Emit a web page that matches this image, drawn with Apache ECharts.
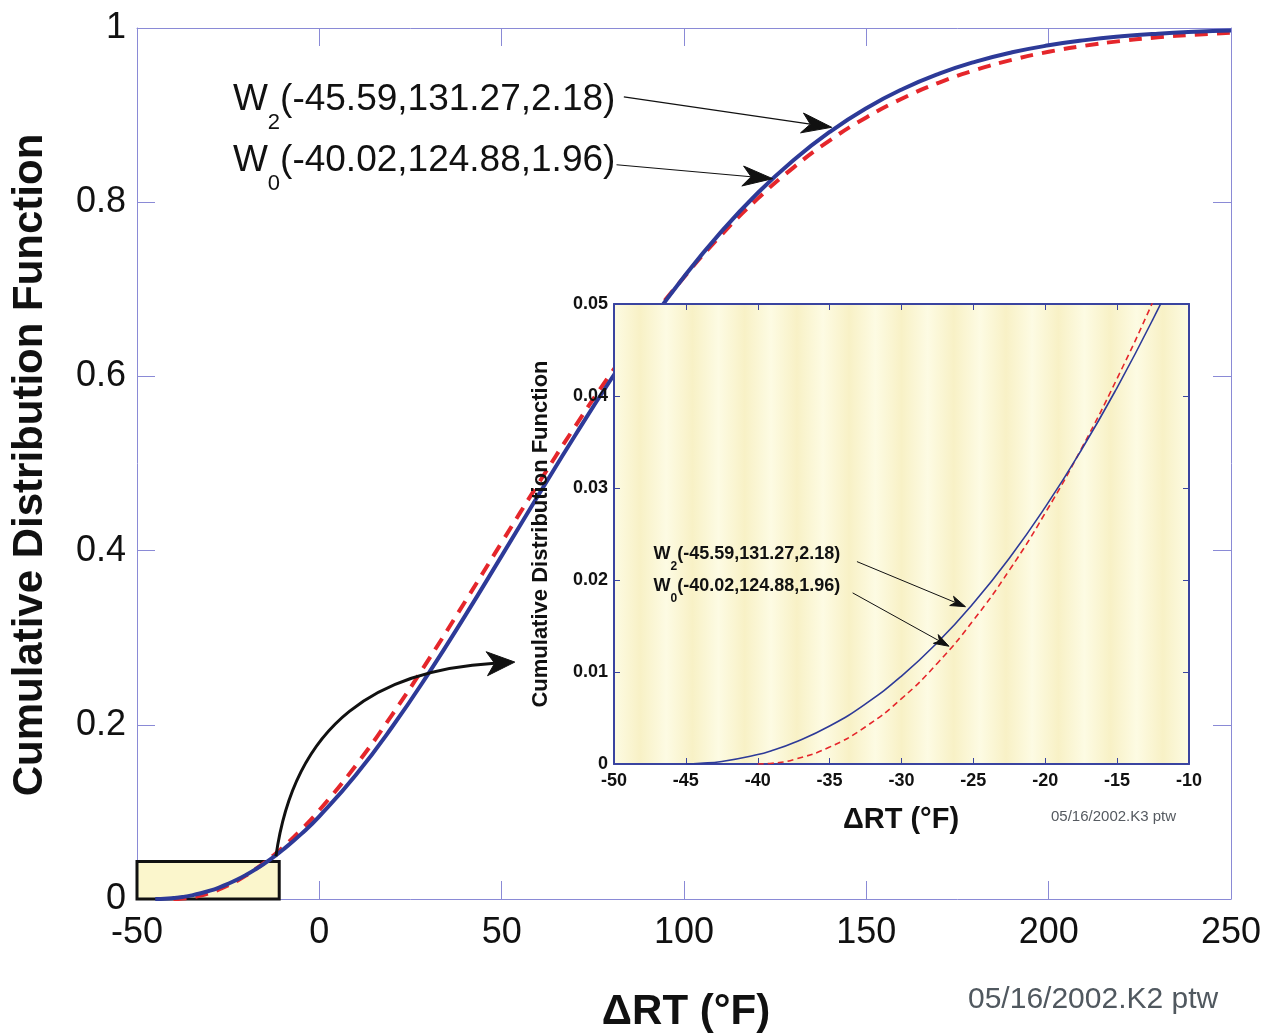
<!DOCTYPE html>
<html>
<head>
<meta charset="utf-8">
<script src="https://cdn.jsdelivr.net/npm/echarts@6/dist/echarts.min.js"></script>
<style>
html,body{margin:0;padding:0;background:#ffffff;}
#c{width:1267px;height:1036px;}
</style>
</head>
<body>
<div id="c"></div>
<script>
// ---------------- data ----------------
const xVals = [-45, -44, -42.5, -40, -39, -37.5, -35, -32.5, -30, -27.5, -25, -22.5, -20, -17.5, -15, -12.5, -10, -5, 0,
  10, 20, 30, 40, 50, 60, 70, 80, 90, 100, 110, 120, 130, 140, 150, 160, 170, 180, 190, 200, 210, 220, 230, 240, 250];
// W2(-45.59,131.27,2.18)  blue solid
const w2Vals = [0.00001, 0.00007, 0.00028, 0.00103, 0.00147, 0.00230, 0.00413, 0.00654, 0.00956, 0.01320, 0.01747, 0.02237, 0.02792, 0.03410, 0.04092, 0.04837, 0.05647, 0.07448, 0.09490,
  0.14242, 0.19776, 0.25937, 0.32537, 0.39397, 0.46322, 0.53132, 0.59674, 0.65807, 0.71444, 0.76506, 0.80970, 0.84823, 0.88083, 0.90794, 0.92998, 0.94761, 0.96143, 0.97208, 0.98012, 0.98607, 0.99041, 0.99351, 0.99568, 0.99717];
// W0(-40.02,124.88,1.96)  red dashed
const w0Vals = [null, null, null, 0.00000, 0.00008, 0.00048, 0.00184, 0.00405, 0.00710, 0.01096, 0.01562, 0.02106, 0.02728, 0.03423, 0.04191, 0.05029, 0.05933, 0.07941, 0.10191,
  0.15331, 0.21175, 0.27510, 0.34160, 0.40933, 0.47647, 0.54165, 0.60356, 0.66118, 0.71391, 0.76132, 0.80324, 0.83975, 0.87102, 0.89735, 0.91933, 0.93735, 0.95190, 0.96351, 0.97265, 0.97973, 0.98515, 0.98925, 0.99231, 0.99456];

const mainXRange = [-50, 250, 50];
const mainYRange = [0, 1, 0.2];
const insetXRange = [-50, -10, 5];
const insetYRange = [0, 0.05, 0.01];
const zoomBox = [[-50, 0], [-11, 0.043]];

const labelW2 = { sub: '2', rest: '(-45.59,131.27,2.18)' };
const labelW0 = { sub: '0', rest: '(-40.02,124.88,1.96)' };
const xTitle = '\u0394RT (\u00B0F)';
const yTitle = 'Cumulative Distribution Function';
const stampMain = '05/16/2002.K2 ptw';
const stampInset = '05/16/2002.K3 ptw';

// ---------------- styling ----------------
const FONT = '"Liberation Sans", Arial, sans-serif';
const mainAxisColor = '#8a8ad6';
const insetAxisColor = '#3a44a0';
const blue = '#2d3a98';
const red = '#e5262b';

function pairs(ys) {
  const out = [];
  for (let i = 0; i < xVals.length; i++) if (ys[i] !== null) out.push([xVals[i], ys[i]]);
  return out;
}
function stripes(n) {
  const stops = [];
  for (let i = 0; i <= n; i++) stops.push({ offset: i / n, color: i % 2 ? '#f8f1c6' : '#fdfbe3' });
  return new echarts.graphic.LinearGradient(0, 0, 1, 0, stops);
}
function axisX(grid, pos, r, o) {
  return Object.assign({
    type: 'value', gridIndex: grid, position: pos, min: r[0], max: r[1], interval: r[2],
    splitLine: { show: false }
  }, o);
}
const axisY = axisX;
function aLine(color, width) { return { onZero: false, lineStyle: { color: color, width: width } }; }
const mainLine = aLine(mainAxisColor, 1);
const mainTick = { inside: true, length: 18, lineStyle: { color: mainAxisColor, width: 1 } };
const mainLbl = { fontSize: 36, fontFamily: FONT, color: '#111' };
const inLine = aLine(insetAxisColor, 2);
const inTick = { inside: true, length: 6, lineStyle: { color: insetAxisColor, width: 1 } };
const inLbl = { fontSize: 18, fontWeight: 'bold', fontFamily: FONT, color: '#111' };

const chart = echarts.init(document.getElementById('c'), null, { renderer: 'canvas' });

chart.setOption({
  animation: false,
  backgroundColor: '#ffffff',
  grid: [
    { left: 137, top: 28, width: 1094, height: 871 },
    { left: 614, top: 304, width: 575, height: 460, show: true, backgroundColor: stripes(22), borderWidth: 0, z: 10 }
  ],
  xAxis: [
    axisX(0, 'bottom', mainXRange, { axisLine: mainLine, axisTick: mainTick, axisLabel: Object.assign({ margin: 16 }, mainLbl) }),
    axisX(0, 'top', mainXRange, { axisLine: mainLine, axisTick: mainTick, axisLabel: { show: false } }),
    axisX(1, 'bottom', insetXRange, { z: 12, axisLine: inLine, axisTick: inTick, axisLabel: Object.assign({ margin: 8 }, inLbl) }),
    axisX(1, 'top', insetXRange, { z: 12, axisLine: inLine, axisTick: inTick, axisLabel: { show: false } })
  ],
  yAxis: [
    axisY(0, 'left', mainYRange, { axisLine: mainLine, axisTick: mainTick, axisLabel: Object.assign({ margin: 11 }, mainLbl) }),
    axisY(0, 'right', mainYRange, { axisLine: mainLine, axisTick: mainTick, axisLabel: { show: false } }),
    axisY(1, 'left', insetYRange, { z: 12, axisLine: inLine, axisTick: inTick, axisLabel: Object.assign({ margin: 6 }, inLbl) }),
    axisY(1, 'right', insetYRange, { z: 12, axisLine: inLine, axisTick: inTick, axisLabel: { show: false } })
  ],
  series: [
    {
      type: 'line', xAxisIndex: 0, yAxisIndex: 0, data: [], z: 1, symbol: 'none',
      markArea: {
        silent: true,
        itemStyle: { color: '#fbf6cc', borderColor: '#111', borderWidth: 3 },
        data: [[{ coord: zoomBox[0] }, { coord: zoomBox[1] }]]
      }
    },
    {
      name: 'W0 main', type: 'line', xAxisIndex: 0, yAxisIndex: 0, z: 3, data: pairs(w0Vals),
      symbol: 'none', smooth: 0.5,
      lineStyle: { color: red, width: 4, type: [13, 9] }
    },
    {
      name: 'W2 main', type: 'line', xAxisIndex: 0, yAxisIndex: 0, z: 4, data: pairs(w2Vals),
      symbol: 'none', smooth: 0.5,
      lineStyle: { color: blue, width: 4 }
    },
    {
      name: 'W0 inset', type: 'line', xAxisIndex: 2, yAxisIndex: 2, z: 13, data: pairs(w0Vals),
      symbol: 'none', smooth: 0.5, clip: true,
      lineStyle: { color: red, width: 1.6, type: [6, 4] }
    },
    {
      name: 'W2 inset', type: 'line', xAxisIndex: 2, yAxisIndex: 2, z: 14, data: pairs(w2Vals),
      symbol: 'none', smooth: 0.5, clip: true,
      lineStyle: { color: blue, width: 1.6 }
    }
  ]
});

// ---------------- annotations ----------------
const ctx = document.createElement('canvas').getContext('2d');
function fnt(size, weight) { return (weight || 'normal') + ' ' + size + 'px ' + FONT; }
function measure(t, size, weight) { ctx.font = fnt(size, weight); return ctx.measureText(t).width; }
function txt(x, y, t, size, weight, color, align, rot) {
  return {
    type: 'text', x: x, y: y, rotation: rot || 0, z: 30,
    style: {
      text: t, fontSize: size, fontWeight: weight || 'normal', fontFamily: FONT, fill: color || '#111',
      align: align || 'left', textAlign: align || 'left', verticalAlign: 'middle', textVerticalAlign: 'middle'
    }
  };
}
function subLabel(p, lab, size, subSize, subDy, weight) {
  const wW = measure('W', size, weight);
  const sW = measure(lab.sub, subSize, weight);
  return [
    txt(p[0], p[1], 'W', size, weight),
    txt(p[0] + wW, p[1] + subDy, lab.sub, subSize, weight),
    txt(p[0] + wW + sW, p[1], lab.rest, size, weight)
  ];
}
function arrowHead(tip, ang, len, hw, color) {
  const ux = Math.cos(ang), uy = Math.sin(ang), nx = -uy, ny = ux;
  const bx = tip[0] - ux * len, by = tip[1] - uy * len;
  const notch = [tip[0] - ux * len * 0.72, tip[1] - uy * len * 0.72];
  return {
    el: {
      type: 'polygon', z: 31, shape: { points: [tip, [bx + nx * hw, by + ny * hw], notch, [bx - nx * hw, by - ny * hw]] },
      style: { fill: color, stroke: color, lineWidth: 1 }
    },
    notch: notch
  };
}
function straightArrow(p0, p1, lw, len, hw, color) {
  const ang = Math.atan2(p1[1] - p0[1], p1[0] - p0[0]);
  const h = arrowHead(p1, ang, len, hw, color);
  return [
    { type: 'line', z: 30, shape: { x1: p0[0], y1: p0[1], x2: h.notch[0], y2: h.notch[1] }, style: { stroke: color, lineWidth: lw } },
    h.el
  ];
}

function drawAnnotations() {
  const M = (d) => chart.convertToPixel({ gridIndex: 0 }, d);
  const I = (d) => chart.convertToPixel({ gridIndex: 1 }, d);
  let g = [];
  // main labels + arrows
  g = g.concat(subLabel(M([-23.7, 0.917]), labelW2, 37, 22, 23, 'normal'));
  g = g.concat(subLabel(M([-23.7, 0.847]), labelW0, 37, 22, 23, 'normal'));
  g = g.concat(straightArrow(M([83.5, 0.921]), M([140.5, 0.886]), 1.2, 30, 10, '#111'));
  g = g.concat(straightArrow(M([81.5, 0.843]), M([124.3, 0.827]), 1.2, 30, 10, '#111'));
  // inset labels + arrows
  g = g.concat(subLabel(I([-47.25, 0.0228]), labelW2, 18, 12, 12, 'bold'));
  g = g.concat(subLabel(I([-47.25, 0.0193]), labelW0, 18, 12, 12, 'bold'));
  g = g.concat(straightArrow(I([-33.1, 0.0220]), I([-25.55, 0.0171]), 1, 15, 5, '#111'));
  g = g.concat(straightArrow(I([-33.4, 0.0186]), I([-26.7, 0.0128]), 1, 15, 5, '#111'));
  // curved arrow from the zoom box to the inset
  const p0 = M([-11.9, 0.049]), c1 = M([-6.7, 0.205]), c2 = M([16.6, 0.263]), tip = M([53.6, 0.272]);
  const ang = Math.atan2(tip[1] - c2[1], tip[0] - c2[0]);
  const h = arrowHead(tip, ang, 28, 12, '#111');
  g.push({
    type: 'bezierCurve', z: 30,
    shape: { x1: p0[0], y1: p0[1], cpx1: c1[0], cpy1: c1[1], cpx2: c2[0], cpy2: c2[1], x2: h.notch[0], y2: h.notch[1] },
    style: { stroke: '#111', lineWidth: 3, fill: null }
  });
  g.push(h.el);
  // titles and stamps
  g.push(txt(686, 1012, xTitle, 42, 'bold', '#111', 'center'));
  g.push(txt(30, 465, yTitle, 42, 'bold', '#111', 'center', Math.PI / 2));
  g.push(txt(968, 1000, stampMain, 30, 'normal', '#50585f', 'left'));
  g.push(txt(901, 820, xTitle, 29, 'bold', '#111', 'center'));
  g.push(txt(541, 534, yTitle, 22, 'bold', '#111', 'center', Math.PI / 2));
  g.push(txt(1051, 817, stampInset, 15, 'normal', '#555a60', 'left'));
  chart.setOption({ graphic: { elements: g } });
}
drawAnnotations();
</script>
</body>
</html>
